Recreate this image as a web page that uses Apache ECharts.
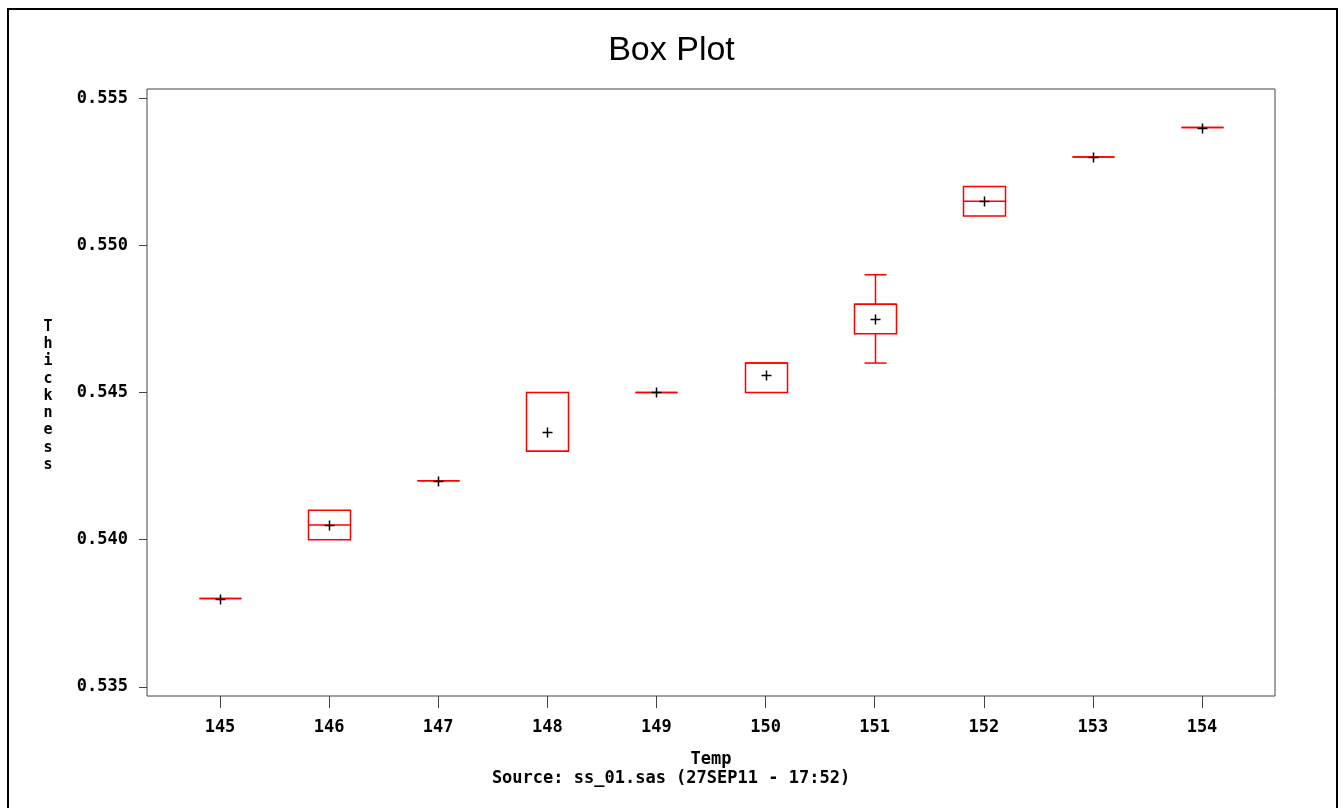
<!DOCTYPE html>
<html>
<head>
<meta charset="utf-8">
<title>Box Plot</title>
<script src="https://cdn.jsdelivr.net/npm/echarts@6/dist/echarts.min.js"></script>
<style>
  html, body { margin: 0; padding: 0; background: #fff; }
  #chart { width: 1343px; height: 808px; }
</style>
</head>
<body>
<div id="chart"></div>
<script>
// Thickness summary per temperature group
const temps      = [145, 146, 147, 148, 149, 150, 151, 152, 153, 154];
const lowWhisker = [0.538, 0.540, 0.542, 0.543, 0.545, 0.545, 0.546, 0.551, 0.553, 0.554];
const q1         = [0.538, 0.540, 0.542, 0.543, 0.545, 0.545, 0.547, 0.551, 0.553, 0.554];
const medians    = [0.538, 0.5405, 0.542, 0.543, 0.545, 0.546, 0.548, 0.5515, 0.553, 0.554];
const q3         = [0.538, 0.541, 0.542, 0.545, 0.545, 0.546, 0.548, 0.552, 0.553, 0.554];
const highWhisker= [0.538, 0.541, 0.542, 0.545, 0.545, 0.546, 0.549, 0.552, 0.553, 0.554];
const means      = [0.538, 0.5405, 0.542, 0.54367, 0.545, 0.54559, 0.5475, 0.5515, 0.553, 0.554];

const xTicks = [145, 146, 147, 148, 149, 150, 151, 152, 153, 154];
const yTicks = [0.535, 0.540, 0.545, 0.550, 0.555];
const yTitle = 'Thickness';

const monoFont = '"DejaVu Sans Mono", monospace';
const RED = '#ff0000';

const boxData = temps.map((t, i) => [t, lowWhisker[i], q1[i], medians[i], q3[i], highWhisker[i], means[i]]);

function renderBox(params, api) {
  const x = api.value(0);
  const lo = api.coord([x, api.value(1)]);
  const b1 = api.coord([x, api.value(2)]);
  const md = api.coord([x, api.value(3)]);
  const b3 = api.coord([x, api.value(4)]);
  const hi = api.coord([x, api.value(5)]);
  const mn = api.coord([x, api.value(6)]);
  const cx = Math.round(lo[0]) + 0.5;
  const halfBox = 21, halfCap = 11, halfPlus = 5;
  const red = { stroke: RED, lineWidth: 1.5, fill: null };
  const children = [];
  if (api.value(1) < api.value(2)) {
    children.push({ type: 'line', shape: { x1: cx, y1: b1[1], x2: cx, y2: lo[1] }, style: red });
    children.push({ type: 'line', shape: { x1: cx - halfCap, y1: lo[1], x2: cx + halfCap, y2: lo[1] }, style: red });
  }
  if (api.value(5) > api.value(4)) {
    children.push({ type: 'line', shape: { x1: cx, y1: b3[1], x2: cx, y2: hi[1] }, style: red });
    children.push({ type: 'line', shape: { x1: cx - halfCap, y1: hi[1], x2: cx + halfCap, y2: hi[1] }, style: red });
  }
  children.push({ type: 'rect', shape: { x: cx - halfBox, y: b3[1], width: halfBox * 2, height: b1[1] - b3[1] }, style: red });
  children.push({ type: 'line', shape: { x1: cx - halfBox, y1: md[1], x2: cx + halfBox, y2: md[1] }, style: red });
  // mean marker
  const my = Math.round(mn[1]) + 0.5;
  children.push({ type: 'line', shape: { x1: cx - halfPlus, y1: my, x2: cx + halfPlus, y2: my }, style: { stroke: '#000', lineWidth: 1.5 } });
  children.push({ type: 'line', shape: { x1: cx, y1: my - halfPlus, x2: cx, y2: my + halfPlus }, style: { stroke: '#000', lineWidth: 1.5 } });
  return { type: 'group', children };
}

const chart = echarts.init(document.getElementById('chart'), null, { renderer: 'canvas' });
chart.setOption({
  animation: false,
  backgroundColor: '#fff',
  title: {
    text: 'Box Plot',
    left: 'center',
    top: 29,
    textStyle: { fontFamily: '"Liberation Sans", Arial, sans-serif', fontSize: 34, fontWeight: 'normal', color: '#000' }
  },
  grid: {
    left: 147, top: 89, right: 68, bottom: 112,
    show: true, borderColor: '#444', borderWidth: 1, backgroundColor: 'transparent'
  },
  xAxis: {
    type: 'value',
    min: 144.331, max: 154.669,
    name: 'Temp',
    nameLocation: 'middle',
    nameGap: 55,
    nameTextStyle: { fontFamily: monoFont, fontWeight: 'bold', fontSize: 17, color: '#000' },
    axisLine: { show: false },
    axisTick: { show: true, customValues: xTicks, length: 12, lineStyle: { color: '#444', width: 1 } },
    axisLabel: { show: true, customValues: xTicks, margin: 23, fontFamily: monoFont, fontWeight: 'bold', fontSize: 17, color: '#000', formatter: v => String(v) },
    splitLine: { show: false }
  },
  yAxis: {
    type: 'value',
    min: 0.53469, max: 0.55531,
    axisLine: { show: false },
    axisTick: { show: true, customValues: yTicks, length: 8, lineStyle: { color: '#444', width: 1 } },
    axisLabel: { show: true, customValues: yTicks, margin: 19, fontFamily: monoFont, fontWeight: 'bold', fontSize: 17, color: '#000', formatter: v => v.toFixed(3) },
    splitLine: { show: false }
  },
  graphic: [
    { type: 'rect', shape: { x: 8, y: 9, width: 1329, height: 820 }, style: { fill: null, stroke: '#000', lineWidth: 2 }, silent: true },
    // vertical axis title, one letter per line
    { type: 'text', x: 48, y: 396, style: { text: yTitle.split('').join('\n'), font: 'bold 15px "DejaVu Sans Mono", monospace', lineHeight: 17.3, fill: '#000', textAlign: 'center', textVerticalAlign: 'middle' } },
    { type: 'text', x: 671, y: 779, style: { text: 'Source: ss_01.sas (27SEP11 - 17:52)', font: 'bold 17px "DejaVu Sans Mono", monospace', fill: '#000', textAlign: 'center', textVerticalAlign: 'middle' } }
  ],
  series: [{
    type: 'custom',
    renderItem: renderBox,
    data: boxData,
    encode: { x: 0, y: [1, 2, 3, 4, 5, 6] },
    clip: false
  }]
});
</script>
</body>
</html>
